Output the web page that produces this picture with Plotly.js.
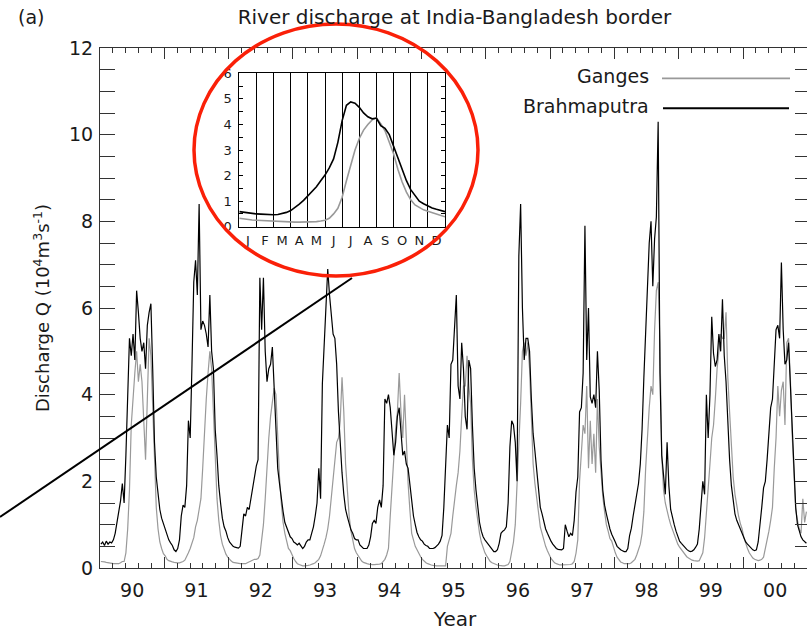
<!DOCTYPE html>
<html>
<head>
<meta charset="utf-8">
<script src="https://cdn.plot.ly/plotly-3.0.1.min.js"></script>
<style>
html,body{margin:0;padding:0;overflow:hidden;background:#fff;}
#chart{width:810px;height:631px;}
</style>
</head>
<body>
<div id="chart"></div>
<script>
// ---- data ----
const years = [1990,1991,1992,1993,1994,1995,1996,1997,1998,1999,2000];
const yearLabels = ['90','91','92','93','94','95','96','97','98','99','00'];
const samplesPerYear = 36;

// Brahmaputra discharge (10^4 m^3/s), 36 samples per year, 1990..2000
const brahmaputra = [
/*1990*/0.55,0.6,0.52,0.62,0.55,0.6,0.58,0.65,0.8,1.05,1.3,1.55,1.95,1.5,2.6,4.2,5.3,4.9,5.4,4.8,6.4,5.9,5.3,5.0,5.2,4.6,5.6,5.9,6.1,4.6,2.9,2.1,1.65,1.35,1.15,1.03,
/*1991*/0.88,0.75,0.65,0.58,0.52,0.42,0.38,0.45,0.65,1.2,1.45,1.4,1.9,3.4,3.0,4.7,6.6,7.1,6.3,8.4,5.5,5.7,5.6,5.4,5.1,6.3,5.0,4.6,3.2,2.6,1.9,1.5,1.15,0.95,0.85,0.7,
/*1992*/0.6,0.55,0.5,0.48,0.47,0.46,0.5,0.9,1.25,1.2,1.4,1.35,1.6,1.9,2.2,2.35,2.5,6.7,5.5,6.7,5.0,4.3,4.6,4.7,5.1,4.2,3.1,2.3,1.95,1.55,1.3,1.05,0.95,0.85,0.72,0.68,
/*1993*/0.6,0.57,0.53,0.57,0.5,0.45,0.5,0.6,0.65,0.65,0.8,0.95,1.2,1.5,2.3,1.6,4.26,5.2,6.2,6.9,6.3,5.9,5.4,5.3,4.7,3.6,2.8,2.2,1.7,1.35,1.18,1.0,0.88,0.8,0.68,0.65,
/*1994*/0.65,0.53,0.5,0.45,0.45,0.45,0.53,0.72,1.03,1.1,1.03,1.4,1.57,1.4,1.9,3.9,3.8,4.0,3.7,3.2,2.6,2.9,3.5,3.7,3.1,2.6,2.7,2.4,2.3,1.95,1.5,1.2,1.0,0.82,0.72,0.65,
/*1995*/0.62,0.55,0.52,0.5,0.45,0.45,0.45,0.47,0.5,0.55,0.62,0.75,1.4,2.3,3.3,3.0,4.7,4.8,5.5,6.3,4.2,3.9,5.2,4.6,3.5,3.2,4.8,4.6,3.3,2.3,1.8,1.4,1.05,0.85,0.72,0.65,
/*1996*/0.6,0.53,0.5,0.45,0.38,0.38,0.42,0.57,0.8,0.85,0.88,0.95,1.5,2.8,3.4,3.3,2.9,2.0,7.2,8.4,6.0,4.8,5.3,5.3,5.0,3.9,3.1,2.7,2.3,1.75,1.4,1.25,1.03,0.9,0.8,0.7,
/*1997*/0.62,0.55,0.5,0.45,0.43,0.42,0.42,0.45,1.0,0.85,0.72,0.8,0.75,1.1,1.75,2.1,3.6,3.7,4.5,7.9,4.8,6.0,3.95,3.8,4.0,3.7,5.0,4.1,2.5,1.8,1.45,1.25,1.05,0.9,0.78,0.7,
/*1998*/0.6,0.5,0.45,0.42,0.4,0.38,0.38,0.45,0.75,0.92,1.2,1.45,1.8,1.95,2.4,3.2,4.4,5.6,6.3,7.5,8.0,6.5,7.6,8.1,10.3,4.5,2.6,2.2,1.7,2.9,1.9,1.35,1.15,1.0,0.85,0.75,
/*1999*/0.62,0.57,0.52,0.47,0.43,0.4,0.38,0.39,0.42,0.48,0.55,0.9,1.5,2.0,1.7,4.0,3.0,4.0,5.8,4.95,4.65,4.8,5.4,5.0,6.2,4.9,4.3,3.3,2.5,1.9,1.5,1.25,1.1,1.0,0.88,0.8,
/*2000*/0.7,0.6,0.55,0.5,0.46,0.42,0.4,0.42,0.6,0.95,1.4,1.85,2.0,2.5,3.1,3.7,3.9,4.6,5.5,5.6,5.3,7.05,5.5,4.7,4.8,5.2,4.2,3.0,2.2,1.4,1.0,0.85,0.72,0.65,0.6,0.57
];

// Ganges discharge (10^4 m^3/s), 36 samples per year, 1990..2000
const ganges = [
/*1990*/0.15,0.15,0.14,0.13,0.12,0.12,0.11,0.1,0.1,0.1,0.1,0.12,0.15,0.15,0.35,0.9,1.8,3.3,4.0,4.5,5.0,4.3,4.7,4.3,3.4,2.5,3.9,5.3,4.9,3.6,2.3,1.4,0.9,0.6,0.45,0.33,
/*1991*/0.28,0.2,0.17,0.15,0.14,0.13,0.12,0.12,0.12,0.13,0.15,0.18,0.25,0.35,0.45,0.6,0.7,0.95,1.1,1.35,1.6,2.3,3.3,3.9,4.5,5.0,4.6,3.6,2.4,1.6,1.1,0.75,0.55,0.42,0.32,0.25,
/*1992*/0.2,0.16,0.13,0.12,0.11,0.1,0.1,0.1,0.1,0.1,0.12,0.14,0.16,0.18,0.2,0.2,0.22,0.3,0.6,1.0,1.6,2.4,3.0,3.5,3.9,4.15,4.0,3.0,2.1,1.5,1.05,0.8,0.6,0.45,0.4,0.3,
/*1993*/0.22,0.15,0.1,0.08,0.06,0.05,0.05,0.05,0.06,0.07,0.08,0.1,0.12,0.15,0.2,0.28,0.4,0.55,0.7,0.9,1.2,1.6,2.0,2.5,2.9,3.0,3.4,4.4,3.6,2.4,1.7,1.2,0.85,0.6,0.45,0.35,
/*1994*/0.28,0.2,0.16,0.13,0.11,0.1,0.09,0.08,0.08,0.08,0.08,0.08,0.09,0.1,0.15,0.2,0.3,0.45,1.2,1.95,2.6,3.2,3.6,4.5,3.6,3.0,4.0,2.7,1.95,1.34,0.8,0.65,0.5,0.42,0.33,0.26,
/*1995*/0.2,0.15,0.12,0.1,0.08,0.07,0.06,0.05,0.05,0.05,0.05,0.05,0.05,0.05,0.5,0.65,0.8,1.2,1.6,1.9,2.2,2.7,3.5,4.2,4.2,4.9,4.2,3.8,2.5,1.8,1.4,1.05,0.8,0.6,0.45,0.35,
/*1996*/0.28,0.2,0.15,0.12,0.1,0.08,0.07,0.06,0.05,0.05,0.05,0.06,0.08,0.15,0.4,0.6,1.0,1.9,2.7,3.8,5.0,5.2,4.9,5.2,4.6,3.3,2.4,1.95,1.6,1.27,0.95,0.8,0.62,0.5,0.4,0.3,
/*1997*/0.22,0.17,0.12,0.1,0.08,0.07,0.07,0.07,0.07,0.07,0.08,0.08,0.1,0.15,0.34,0.65,2.0,2.8,3.3,3.1,4.2,2.3,3.4,2.4,3.1,2.2,3.9,2.8,2.1,1.65,1.3,1.0,0.85,0.68,0.62,0.45,
/*1998*/0.35,0.25,0.18,0.14,0.12,0.1,0.1,0.1,0.1,0.12,0.15,0.2,0.3,0.45,0.55,0.8,1.3,2.3,3.1,3.7,4.2,4.0,5.5,6.4,6.6,5.2,2.6,1.8,1.5,1.3,1.15,1.0,0.88,0.78,0.65,0.55,
/*1999*/0.48,0.42,0.36,0.3,0.26,0.23,0.2,0.18,0.17,0.16,0.16,0.17,0.25,0.35,0.7,1.2,1.8,2.4,3.0,3.3,3.9,4.6,5.0,5.4,5.3,5.3,5.9,4.4,3.6,2.8,2.1,1.7,1.4,1.2,1.03,0.9,
/*2000*/0.7,0.55,0.45,0.35,0.28,0.23,0.2,0.18,0.17,0.18,0.2,0.25,0.45,0.6,0.85,1.1,1.4,2.3,3.0,4.2,3.5,4.1,4.3,3.3,5.2,5.3,4.4,3.1,2.0,1.35,1.1,0.9,0.8,1.6,1.05,1.3
];

// Inset: mean annual cycle, quarter-month steps from Jan 1 (0) to Dec 31 (12)
const monthLabels = ['J','F','M','A','M','J','J','A','S','O','N','D'];
const insetStep = 0.25;
const insetBrahmaputra = [0.59,0.56,0.53,0.51,0.5,0.49,0.48,0.47,0.47,0.48,0.51,0.56,0.63,0.74,0.88,1.03,1.2,1.37,1.56,1.8,2.02,2.3,2.65,3.3,4.15,4.75,4.88,4.83,4.67,4.45,4.3,4.22,4.25,3.95,3.85,3.6,3.15,2.7,2.2,1.8,1.45,1.2,1.0,0.9,0.8,0.73,0.68,0.63,0.59];
const insetGanges = [0.33,0.3,0.28,0.26,0.25,0.24,0.22,0.21,0.2,0.2,0.19,0.19,0.18,0.18,0.18,0.18,0.18,0.19,0.2,0.22,0.25,0.33,0.5,0.72,1.15,1.8,2.45,3.0,3.45,3.78,4.0,4.18,4.25,4.03,3.75,3.3,2.85,2.25,1.75,1.35,1.05,0.85,0.74,0.66,0.6,0.55,0.5,0.45,0.39];

// ---- build ----
const tMain = brahmaputra.map((_, i) => years[0] + (i + 0.5) / samplesPerYear);
const tInset = insetBrahmaputra.map((_, i) => i * insetStep);
const yearMid = years.map(y => y + 0.5);
const xEnd = 1990 + 710 / 64.3;

const FONT = 'DejaVu Sans, Liberation Sans, Arial, sans-serif';
const TXT = '#1a1a1a';
const AX = '#333';
const GREY = '#999999';

const traces = [
  {x: tMain, y: ganges, type: 'scatter', mode: 'lines', line: {color: GREY, width: 1.2}, xaxis: 'x', yaxis: 'y', hoverinfo: 'skip'},
  {x: tMain, y: brahmaputra, type: 'scatter', mode: 'lines', line: {color: '#000', width: 1.2}, xaxis: 'x', yaxis: 'y', hoverinfo: 'skip'},
  {x: [], y: [], type: 'scatter', xaxis: 'x3', yaxis: 'y', hoverinfo: 'skip'},
  {x: tInset, y: insetGanges, type: 'scatter', mode: 'lines', line: {color: GREY, width: 1.6}, xaxis: 'x2', yaxis: 'y2', hoverinfo: 'skip'},
  {x: tInset, y: insetBrahmaputra, type: 'scatter', mode: 'lines', line: {color: '#000', width: 1.6}, xaxis: 'x2', yaxis: 'y2', hoverinfo: 'skip'},
  {x: [], y: [], type: 'scatter', xaxis: 'x4', yaxis: 'y2', hoverinfo: 'skip'}
];

const px = v => (v - 100) / 710;
const py = v => (568 - v) / 520;

const layout = {
  width: 810, height: 631,
  margin: {l: 100, r: 0, t: 48, b: 63},
  paper_bgcolor: '#fff', plot_bgcolor: '#fff',
  showlegend: false,
  font: {family: FONT, color: TXT, size: 19},
  title: {text: 'River discharge at India-Bangladesh border', font: {size: 20, color: TXT, family: FONT},
          xref: 'paper', x: px(454.5), xanchor: 'center', yref: 'container', y: 1 - 17 / 631, yanchor: 'middle'},
  xaxis: {range: [1990, xEnd], tickmode: 'array', tickvals: yearMid, ticktext: yearLabels, ticks: '',
          showline: true, mirror: true, linecolor: AX, linewidth: 1, showgrid: false, zeroline: false,
          tickfont: {size: 19, color: TXT}, ticklabelstandoff: 5,
          title: {text: 'Year', font: {size: 20, color: TXT}, standoff: 12}},
  xaxis3: {overlaying: 'x', anchor: 'y', range: [1990, xEnd], tickmode: 'linear', tick0: 1990, dtick: 1,
           ticks: 'inside', ticklen: 11, tickcolor: AX, tickwidth: 1, showticklabels: false, mirror: 'allticks',
           showline: false, showgrid: false, zeroline: false,
           minor: {tick0: 1990, dtick: 0.2, ticks: 'inside', ticklen: 5, tickcolor: AX, tickwidth: 1, showgrid: false}},
  yaxis: {range: [0, 12], tickmode: 'linear', tick0: 0, dtick: 2, ticks: 'inside', ticklen: 15, tickcolor: AX,
          showline: true, mirror: 'allticks', linecolor: AX, linewidth: 1, showgrid: false, zeroline: false,
          minor: {dtick: 0.5, ticks: 'inside', ticklen: 9, tickcolor: AX, showgrid: false},
          tickfont: {size: 19, color: TXT}, ticklabelstandoff: 2,
          title: {text: 'Discharge Q (10<sup>4</sup>m<sup>3</sup>s<sup>-1</sup>)', font: {size: 18, color: TXT}, standoff: 14}},
  xaxis2: {domain: [px(239.3), px(445)], anchor: 'y2', range: [0, 12], tickmode: 'array',
           tickvals: monthLabels.map((_, i) => i + 0.5), ticktext: monthLabels, ticks: '',
           showline: true, mirror: true, linecolor: '#000', linewidth: 1, showgrid: false, zeroline: false,
           tickfont: {size: 13, color: TXT}, ticklabelstandoff: 2},
  xaxis4: {overlaying: 'x2', anchor: 'y2', range: [0, 12], tickmode: 'linear', tick0: 0, dtick: 1, ticks: '',
           showticklabels: false, showgrid: true, gridcolor: '#000', gridwidth: 1, zeroline: false, showline: false},
  yaxis2: {domain: [py(226.7), py(73.3)], anchor: 'x2', range: [0, 6], tickmode: 'linear', tick0: 0, dtick: 1,
           ticks: 'inside', ticklen: 4, tickcolor: '#000', showline: true, mirror: 'allticks', linecolor: '#000',
           showgrid: false, zeroline: false,
           minor: {dtick: 0.5, ticks: 'inside', ticklen: 4, tickcolor: '#000', showgrid: false},
           tickfont: {size: 13, color: TXT}, ticklabelstandoff: 4},
  shapes: [
    {type: 'circle', xref: 'paper', yref: 'paper', x0: px(194), x1: px(478), y0: py(276), y1: py(24),
     line: {color: 'rgb(250,32,8)', width: 3.5}, fillcolor: 'rgba(0,0,0,0)', layer: 'above'},
    {type: 'line', xref: 'paper', yref: 'paper', x0: px(0), y0: py(517), x1: px(352), y1: py(278),
     line: {color: '#000', width: 2}, layer: 'above'},
    {type: 'line', xref: 'paper', yref: 'paper', x0: px(662), x1: px(790), y0: py(78.3), y1: py(78.3),
     line: {color: GREY, width: 1.8}},
    {type: 'line', xref: 'paper', yref: 'paper', x0: px(663), x1: px(789), y0: py(108.3), y1: py(108.3),
     line: {color: '#000', width: 2}}
  ],
  annotations: [
    {text: '(a)', xref: 'paper', yref: 'paper', x: px(31), y: py(17), xanchor: 'center', yanchor: 'middle',
     showarrow: false, font: {size: 19, color: TXT}},
    {text: 'Ganges', xref: 'paper', yref: 'paper', x: px(651), y: py(76), xanchor: 'right', yanchor: 'middle',
     showarrow: false, font: {size: 19, color: TXT}},
    {text: 'Brahmaputra', xref: 'paper', yref: 'paper', x: px(651), y: py(106), xanchor: 'right', yanchor: 'middle',
     showarrow: false, font: {size: 19, color: TXT}}
  ]
};

Plotly.newPlot('chart', traces, layout, {staticPlot: true, displayModeBar: false});
</script>
</body>
</html>
